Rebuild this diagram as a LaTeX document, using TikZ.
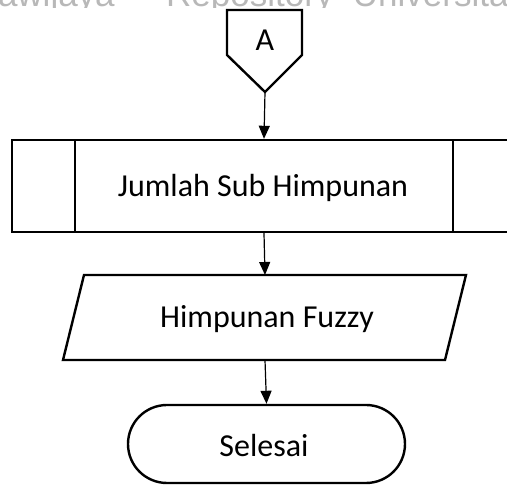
\documentclass[tikz,border=0pt]{standalone}
\usepackage{fontspec}
\setmainfont{Carlito}
\newfontfamily\markfont{Liberation Sans}
\usetikzlibrary{arrows.meta}
\begin{document}
\begin{tikzpicture}[x=1pt,y=-1pt,
  shapeline/.style={draw=black,line width=2.4pt,line join=miter},
  flowarrow/.style={draw=black,line width=1.2pt,-{Triangle[width=11pt,length=13pt]}},
  label/.style={font=\fontsize{32}{36}\selectfont,inner sep=0pt},
  watermark/.style={inner sep=0pt,text=black!28,font=\markfont\fontsize{35}{40}\selectfont}]
\useasboundingbox (0,0) rectangle (507,486);
\clip (0,0) rectangle (507,486);

% faint repository watermark along the top edge
\begin{scope}
  \clip (0,0) rectangle (507,8);
  \node[watermark,anchor=base east] (wmleft) at (115,7) {Universitas Brawijaya};
  \node[watermark,anchor=base west] (wmright) at (166,7) {Repository \ Universitas Brawijaya};
\end{scope}

% off-page connector A
\draw[shapeline] (227,10) -- (302,10) -- (302,55) -- (265,92) -- (227,55) -- cycle;
\node[label] (a) at (265,40) {A};
\coordinate (atip) at (265,92);

% predefined process
\node[shapeline,rectangle,minimum width=504pt,minimum height=92pt,inner sep=0pt] (sub) at (264,186) {};
\draw[shapeline] (75,140) -- (75,232);
\draw[shapeline] (453,140) -- (453,232);
\node[label] (subtext) at (263,188) {Jumlah Sub Himpunan};

% data (input/output)
\draw[shapeline] (84,275) -- (466,275) -- (445,360) -- (63,360) -- cycle;
\coordinate (iotop) at (265,275);
\coordinate (iobot) at (265,360);
\node[label] (io) at (267,319) {Himpunan Fuzzy};

% terminator
\node[shapeline,rectangle,rounded corners=39pt,minimum width=277pt,minimum height=78pt,inner sep=0pt] (end) at (266.5,444) {};
\node[label] (endtext) at (264,446) {Selesai};

% connectors
\draw[flowarrow] (atip) -- (sub.north);
\draw[flowarrow] (sub.south) -- (iotop);
\draw[flowarrow] (iobot) -- (end.north);
\end{tikzpicture}
\end{document}
